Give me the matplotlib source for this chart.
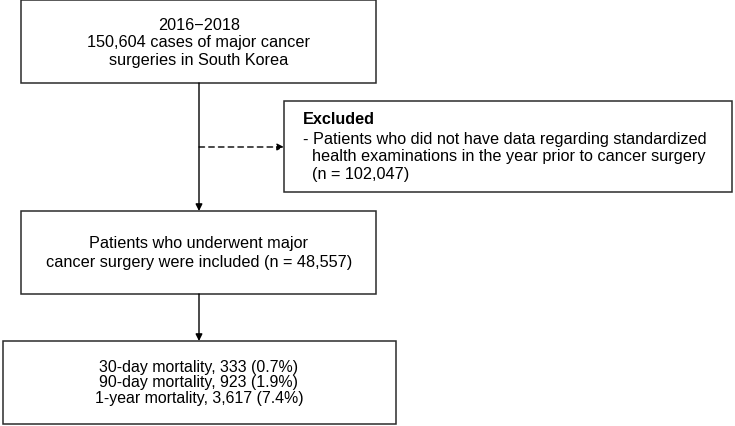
import matplotlib
matplotlib.use("Agg")
import matplotlib.pyplot as plt
from matplotlib.patches import Rectangle

plt.rcParams['font.family'] = ['Liberation Sans', 'DejaVu Sans']

# box texts
top_lines = ["2016\u22122018", "150,604 cases of major cancer", "surgeries in South Korea"]
excl_title = "Excluded"
excl_lines = ["- Patients who did not have data regarding standardized",
              "  health examinations in the year prior to cancer surgery",
              "  (n = 102,047)"]
incl_lines = ["Patients who underwent major", "cancer surgery were included (n = 48,557)"]
mort_labels = ["30-day mortality", "90-day mortality", "1-year mortality"]
mort_n = [333, 923, 3617]
mort_pct = [0.7, 1.9, 7.4]

fig = plt.figure(figsize=(7.35, 4.27), dpi=100)
ax = fig.add_axes([0, 0, 1, 1])
ax.set_xlim(0, 735)
ax.set_ylim(427, 0)
ax.axis("off")

ec = "#2b2b2b"
fs = 11.7


def box(x0, y0, x1, y1):
    ax.add_patch(Rectangle((x0, y0), x1 - x0, y1 - y0, fill=False, ec=ec, lw=1.1))


def arrow(x0, y0, x1, y1, ls="-"):
    ax.annotate("", xy=(x1, y1), xytext=(x0, y0),
                arrowprops=dict(arrowstyle="-|>", color="black", lw=1.0, ls=ls,
                                mutation_scale=10, shrinkA=0, shrinkB=0))


# boxes
box(21, 1, 376, 84)
box(284, 102, 732, 193)
box(21, 212, 376, 295)
box(3, 342, 396, 425)

cx = 199
ax.text(cx, 43, "\n".join(top_lines), ha="center", va="center", fontsize=fs, linespacing=1.2)
ax.text(303, 120, excl_title, ha="left", va="center", fontsize=fs, fontweight="bold")
ax.text(303, 157, "\n".join(excl_lines), ha="left", va="center", fontsize=fs, linespacing=1.2)
ax.text(cx, 253, "\n".join(incl_lines), ha="center", va="center", fontsize=fs, linespacing=1.25)
mort = ["{}, {:,} ({}%)".format(l, n, p) for l, n, p in zip(mort_labels, mort_n, mort_pct)]
ax.text(cx, 383, "\n".join(mort), ha="center", va="center", fontsize=11.4, linespacing=1.05)

# connectors
arrow(cx, 84, cx, 212)
arrow(cx, 148, 284, 148, ls=(0, (4, 3)))
arrow(cx, 295, cx, 342)

fig.savefig("out.png", dpi=100)
